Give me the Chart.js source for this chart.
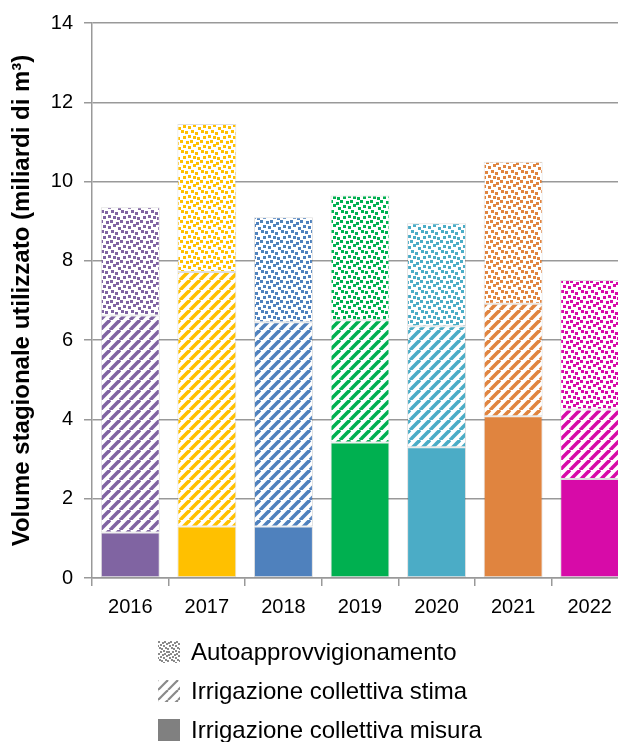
<!DOCTYPE html>
<html>
<head>
<meta charset="utf-8">
<script src="https://cdn.jsdelivr.net/npm/chart.js@4"></script>
<style>
  html, body { margin: 0; padding: 0; background: #fff; overflow: hidden; }
  #wrap { position: relative; width: 628px; height: 628px; }
  #legend { position: absolute; left: 158px; top: 632px; font-family: "Liberation Sans", Arial, sans-serif; font-size: 24px; color: #000; }
  #legend div { height: 39px; display: flex; align-items: center; }
  #legend canvas { margin-right: 11px; }
</style>
</head>
<body>
<div id="wrap"><canvas id="myChart" width="628" height="628"></canvas></div>
<div id="legend"></div>
<script>
var years = ["2016", "2017", "2018", "2019", "2020", "2021", "2022"];
var misura = [1.15, 1.3, 1.3, 3.42, 3.3, 4.08, 2.5];
var stima = [5.47, 6.42, 5.15, 3.08, 3.05, 2.84, 1.75];
var auto = [2.73, 3.73, 2.65, 3.15, 2.6, 3.58, 3.27];
var yTicks = [0, 2, 4, 6, 8, 10, 12, 14];
var seriesNames = ["Autoapprovvigionamento", "Irrigazione collettiva stima", "Irrigazione collettiva misura"];
var barColors = ["#8064A2", "#FFC000", "#4F81BD", "#00B050", "#4BACC6", "#E0843F", "#D70BA8"];

// small tile canvases for the hatch / dot fills
function stripeTile(color, w) {
    var c = document.createElement("canvas");
    c.width = 10; c.height = 10;
    var g = c.getContext("2d");
    g.fillStyle = "#fff";
    g.fillRect(0, 0, 10, 10);
    g.strokeStyle = color;
    g.lineWidth = w;
    for (var k = -1; k <= 1; k++) {
        g.beginPath();
        g.moveTo(k * 10, 10);
        g.lineTo(k * 10 + 10, 0);
        g.stroke();
    }
    return c;
}
// scattered squares, 20x20 tile
var dotSpots = [[0, 0], [6, 1], [10, 0], [16, 2], [3, 5], [8, 6], [13, 4], [18, 7],
                [1, 10], [5, 11], [11, 10], [15, 12], [3, 16], [8, 15], [13, 16], [17, 17]];
function dotTile(color, sz, n) {
    var c = document.createElement("canvas");
    c.width = n; c.height = n;
    var g = c.getContext("2d");
    var f = n / 20;
    g.fillStyle = "#fff";
    g.fillRect(0, 0, n, n);
    g.fillStyle = color;
    dotSpots.forEach(function (p) {
        var x = Math.round(p[0] * f), y = Math.round(p[1] * f);
        g.fillRect(x, y, sz, sz);
        g.fillRect(x - n, y, sz, sz);
        g.fillRect(x, y - n, sz, sz);
    });
    return c;
}

var ctx = document.getElementById("myChart").getContext("2d");
var dotFills = barColors.map(function (c) { return ctx.createPattern(dotTile(c, 3, 20), "repeat"); });
var stripeFills = barColors.map(function (c) { return ctx.createPattern(stripeTile(c, 3.6), "repeat"); });

var common = {
    borderColor: "rgba(0,0,0,0.13)",
    borderWidth: 1,
    borderSkipped: false,
    categoryPercentage: 1,
    barPercentage: 0.77
};

var myChart = new Chart(ctx, {
    type: "bar",
    data: {
        labels: years,
        datasets: [
            Object.assign({ label: seriesNames[2], data: misura, backgroundColor: barColors }, common),
            Object.assign({ label: seriesNames[1], data: stima, backgroundColor: stripeFills }, common),
            Object.assign({ label: seriesNames[0], data: auto, backgroundColor: dotFills }, common)
        ]
    },
    options: {
        responsive: false,
        animation: false,
        layout: { padding: { top: 17, left: 0, right: 0, bottom: 0 } },
        plugins: { legend: { display: false }, tooltip: { enabled: false } },
        scales: {
            x: {
                stacked: true,
                grid: { offset: true, drawOnChartArea: false, color: "#999", lineWidth: 1.5, tickLength: 8 },
                border: { color: "#999", width: 1.5 },
                ticks: { color: "#000", font: { family: "Liberation Sans", size: 20 }, padding: 9 },
                afterFit: function (s) { s.height = 50; }
            },
            y: {
                stacked: true,
                min: 0,
                max: 14,
                afterBuildTicks: function (s) { s.ticks = yTicks.map(function (v) { return { value: v }; }); },
                grid: { color: "#999", lineWidth: 1.5, tickLength: 8 },
                border: { color: "#999", width: 1.5 },
                ticks: { color: "#000", font: { family: "Liberation Sans", size: 20 }, padding: 11 },
                title: {
                    display: true,
                    text: "Volume stagionale utilizzato (miliardi di m\u00b3)",
                    color: "#000",
                    font: { family: "Liberation Sans", size: 24, weight: "bold" },
                    padding: { top: 8, bottom: 0 }
                },
                afterFit: function (s) { s.width = 92; }
            }
        }
    }
});

// legend with grey versions of the fills
var legend = document.getElementById("legend");
var swatches = [dotTile("#8a8a8a", 2, 12), stripeTile("#8a8a8a", 2.2), null];
seriesNames.forEach(function (name, i) {
    var row = document.createElement("div");
    var sw = document.createElement("canvas");
    sw.width = 22; sw.height = 22;
    var g = sw.getContext("2d");
    g.fillStyle = swatches[i] ? g.createPattern(swatches[i], "repeat") : "#808080";
    g.fillRect(0, 0, 22, 22);
    row.appendChild(sw);
    row.appendChild(document.createTextNode(name));
    legend.appendChild(row);
});
</script>
</body>
</html>
